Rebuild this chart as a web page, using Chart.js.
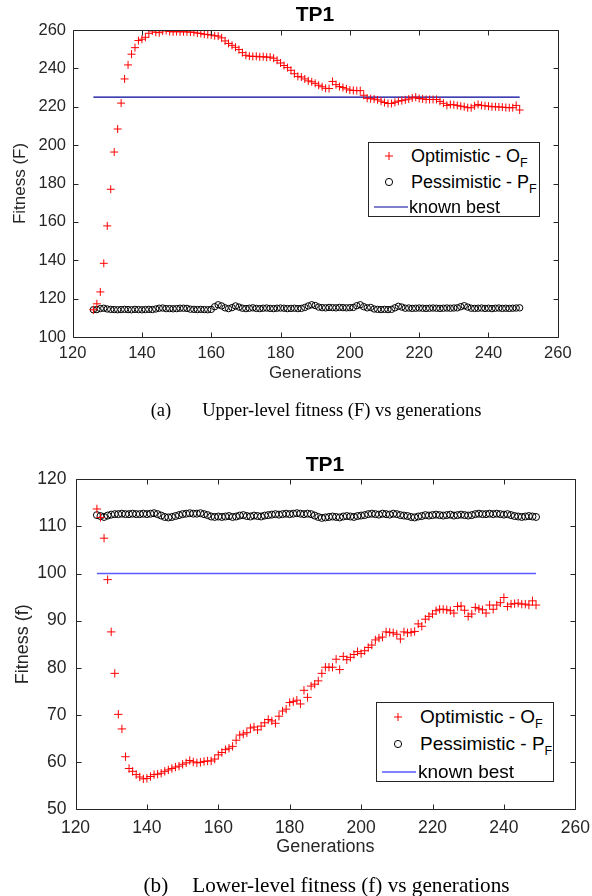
<!DOCTYPE html>
<html><head><meta charset="utf-8">
<script src="https://cdn.jsdelivr.net/npm/chart.js@4/dist/chart.umd.min.js"></script>
<style>
body{margin:0;width:592px;height:896px;background:#fff;position:relative;overflow:hidden;font-family:"Liberation Sans",Arial,sans-serif;color:#262626}
.cw{position:absolute;left:0;width:592px}
.title{position:absolute;font-weight:bold;color:#000;transform:translate(-50%,-50%);white-space:nowrap;font-size:21px}
.legend{position:absolute;border:1px solid #262626;background:#fff;box-sizing:border-box}
.row{position:absolute;white-space:nowrap;transform:translateY(-50%);color:#000}
.row .s{position:relative;font-size:12.5px;top:5px}
.mk{position:absolute}
.cap{position:absolute;font-family:"Liberation Serif","Times New Roman",serif;color:#000;white-space:nowrap;transform:translate(-50%,-50%)}
.gap{display:inline-block}
</style>
</head><body>

<div class="cw" style="top:0;height:400px"><canvas id="c1" width="592" height="400"></canvas></div>
<div class="cw" style="top:440px;height:456px"><canvas id="c2" width="592" height="456"></canvas></div>

<div class="title" style="left:315px;top:14px">TP1</div>
<div class="title" style="left:325px;top:464px">TP1</div>

<div class="legend" style="left:368px;top:142px;width:172px;height:75px;font-size:18px">
  <svg class="mk" style="left:15px;top:8px" width="10" height="10"><path d="M5 1V9M1 5H9" stroke="#ff0000" stroke-width="1"/></svg>
  <div class="row" style="left:42px;top:13px">Optimistic - O<span class="s">F</span></div>
  <svg class="mk" style="left:15px;top:34px" width="10" height="10"><circle cx="5" cy="5" r="3.6" stroke="#000" fill="none" stroke-width="1"/></svg>
  <div class="row" style="left:42px;top:38.7px">Pessimistic - P<span class="s">F</span></div>
  <svg class="mk" style="left:5px;top:59px" width="34" height="10"><path d="M0 5H34" stroke="#00009a" stroke-width="1.2"/></svg>
  <div class="row" style="left:40px;top:64px">known best</div>
</div>

<div class="legend" style="left:376px;top:702px;width:178px;height:80px;font-size:19px">
  <svg class="mk" style="left:16px;top:9px" width="10" height="10"><path d="M5 1V9M1 5H9" stroke="#ff0000" stroke-width="1"/></svg>
  <div class="row" style="left:43px;top:14px">Optimistic - O<span class="s">F</span></div>
  <svg class="mk" style="left:16px;top:36px" width="10" height="10"><circle cx="5" cy="5" r="3.6" stroke="#000" fill="none" stroke-width="1"/></svg>
  <div class="row" style="left:43px;top:41.3px">Pessimistic - P<span class="s">F</span></div>
  <svg class="mk" style="left:5px;top:64px" width="34" height="10"><path d="M0 5H34" stroke="#5a5aff" stroke-width="1.5"/></svg>
  <div class="row" style="left:41px;top:68.7px">known best</div>
</div>

<div class="cap" style="left:316px;top:410px;font-size:18.5px">(a)<span class="gap" style="width:31px"></span>Upper-level fitness (F) vs generations</div>
<div class="cap" style="left:326.5px;top:885px;font-size:21.2px">(b)<span class="gap" style="width:24px"></span>Lower-level fitness (f) vs generations</div>

<script>
// ---------- data ----------
const generations = [126,127,128,129,130,131,132,133,134,135,136,137,138,139,140,141,142,143,144,145,146,147,148,149,150,151,152,153,154,155,156,157,158,159,160,161,162,163,164,165,166,167,168,169,170,171,172,173,174,175,176,177,178,179,180,181,182,183,184,185,186,187,188,189,190,191,192,193,194,195,196,197,198,199,200,201,202,203,204,205,206,207,208,209,210,211,212,213,214,215,216,217,218,219,220,221,222,223,224,225,226,227,228,229,230,231,232,233,234,235,236,237,238,239,240,241,242,243,244,245,246,247,248,249];

// Upper-level fitness F
const upperOptimistic = [114.2,117.3,123.5,138.4,157.9,177,196.4,208.4,221.9,234.5,241.8,247.4,250.8,254.5,255.2,256.2,258.3,259.5,258.8,258.6,259.5,259.8,259.2,259.0,259.2,259.0,259.1,259.0,258.9,258.8,258.4,258.2,257.8,257.6,257.4,257.0,256.8,255.9,254.3,253.0,252.0,251.0,249.8,248.2,246.8,246.4,246.2,246.3,246.0,246.1,245.8,245.9,245.3,244.2,242.8,241.5,240.4,239.0,237.2,235.8,235.5,234.5,233.5,233.0,232.2,231.2,230.4,229.6,229.5,233.2,231.5,230.5,230.0,229.3,228.7,228.5,228.4,228.4,226.0,224.4,224.2,224.0,223.6,222.9,222.2,221.7,221.7,222.3,222.9,223.2,223.6,224.0,224.6,225.0,224.3,224.1,223.8,223.8,223.8,223.8,222.8,221.8,220.7,221.2,221.0,220.7,220.3,220.0,219.5,219.5,220.5,221.2,220.7,220.5,220.3,220.0,220.0,219.9,219.8,219.6,219.5,219.5,220.7,218.3];
const upperPessimistic = [114.2,114.3,114.8,115.0,114.6,114.4,114.3,114.2,114.3,114.4,114.3,114.2,114.4,114.3,114.2,114.3,114.4,114.3,114.6,115.0,115.1,114.8,114.8,114.7,114.8,115.0,115.0,114.9,114.5,114.4,114.3,114.4,114.3,114.2,114.4,115.8,116.8,116.2,115.2,114.8,115.3,116.2,115.6,115.0,114.8,115.0,115.2,114.9,114.8,115.0,115.1,114.9,114.8,115.0,115.1,115.0,114.8,114.9,115.0,114.8,114.9,115.4,116.2,116.8,116.4,115.6,115.3,115.2,115.4,115.3,115.2,115.4,115.3,115.2,115.3,115.4,116.3,116.8,115.8,115.2,115.4,114.6,114.4,114.3,114.4,114.3,114.4,115.2,116.0,115.6,115.0,115.1,114.9,115.0,115.1,115.0,114.9,115.0,115.1,115.0,114.9,115.0,115.1,115.0,115.1,115.2,115.8,116.3,115.6,115.0,114.9,115.0,115.1,114.9,115.0,114.8,115.0,115.1,114.9,115.0,114.9,115.0,115.1,115.2];
const upperKnownBestX = [126,249];
const upperKnownBestY = [225,225];

// Lower-level fitness f
const lowerOptimistic = [113.7,111.9,107.5,98.7,87.6,78.8,70.1,67.0,61.1,58.6,58.0,57.3,56.8,56.4,56.5,56.9,57.3,57.4,57.6,58.0,58.3,58.6,58.9,59.1,59.5,59.8,60.3,60.0,59.8,59.9,60.1,60.2,60.2,60.6,61.5,62.0,62.6,62.9,63.3,64.6,65.7,65.9,66.2,67.2,67.4,66.8,67.6,68.3,69.0,68.7,68.2,69.7,70.8,71.2,72.6,72.8,73.1,72.3,75.2,73.7,76.1,76.5,77.2,78.8,80.1,80.1,80.1,81.8,79.6,82.4,81.7,82.2,82.8,83.4,83.0,83.6,84.3,84.8,85.9,86.3,86.5,87.6,87.5,87.4,87.1,86.1,87.6,87.4,87.5,87.7,89.3,88.8,90.3,90.9,91.4,92.1,92.4,92.4,92.3,92.1,91.6,93.0,93.1,92.2,90.9,91.4,92.8,92.5,92.3,91.6,93.3,92.4,93.3,93.8,94.9,93.0,93.5,93.6,93.7,93.5,93.5,93.3,94.2,93.3];
const lowerPessimistic = [112.4,112.2,112.0,112.3,112.5,112.6,112.6,112.7,112.6,112.6,112.7,112.6,112.6,112.7,112.6,112.7,112.8,112.6,112.3,112.0,111.9,112.0,112.2,112.4,112.6,112.7,112.8,112.7,112.7,112.8,112.6,112.4,112.1,112.0,112.1,112.0,112.1,112.2,112.0,112.1,112.3,112.4,112.2,112.1,112.3,112.2,112.1,112.3,112.4,112.5,112.6,112.5,112.6,112.7,112.6,112.7,112.8,112.7,112.6,112.7,112.6,112.3,112.0,111.8,111.9,112.0,112.1,112.0,111.9,112.1,112.2,112.1,112.0,112.2,112.3,112.4,112.6,112.7,112.6,112.5,112.7,112.6,112.5,112.7,112.6,112.4,112.3,112.2,112.0,111.9,112.1,112.2,112.4,112.3,112.4,112.5,112.4,112.3,112.4,112.5,112.3,112.4,112.5,112.4,112.3,112.4,112.6,112.7,112.6,112.6,112.7,112.6,112.7,112.6,112.5,112.6,112.4,112.2,112.1,112.0,112.1,112.2,112.1,112.0];
const lowerKnownBestX = [126,249];
const lowerKnownBestY = [100,100];

const xTicks = [120,140,160,180,200,220,240,260];
const upperYTicks = [100,120,140,160,180,200,220,240,260];
const lowerYTicks = [50,60,70,80,90,100,110,120];

// ---------- drawing ----------
const AX = '#262626';
const boxTicks = {
  id: 'boxTicks',
  afterDraw(chart) {
    const {ctx, chartArea: a, scales: {x, y}} = chart;
    ctx.save();
    ctx.strokeStyle = AX;
    ctx.lineWidth = 1;
    ctx.beginPath();
    const L = Math.round(a.left) + 0.5, R = Math.round(a.right) + 0.5;
    const T = Math.round(a.top) + 0.5, B = Math.round(a.bottom) + 0.5;
    ctx.rect(L, T, R - L, B - T);
    const tl = 5;
    x.ticks.forEach(t => {
      const px = Math.round(x.getPixelForValue(t.value)) + 0.5;
      ctx.moveTo(px, B); ctx.lineTo(px, B - tl);
      ctx.moveTo(px, T); ctx.lineTo(px, T + tl);
    });
    y.ticks.forEach(t => {
      const py = Math.round(y.getPixelForValue(t.value)) + 0.5;
      ctx.moveTo(L, py); ctx.lineTo(L + tl, py);
      ctx.moveTo(R, py); ctx.lineTo(R - tl, py);
    });
    ctx.stroke();
    ctx.restore();
  }
};

function pts(xs, ys) { return xs.map((g, i) => ({x: g, y: ys[i]})); }

function makeChart(id, o) {
  return new Chart(document.getElementById(id), {
    type: 'scatter',
    data: {datasets: [
      {data: pts(generations, o.opt), pointStyle: 'cross', pointRadius: o.plusR, borderColor: '#ff0000', backgroundColor: '#ff0000', borderWidth: 1, showLine: false},
      {data: pts(generations, o.pess), pointStyle: 'circle', pointRadius: o.circR, borderColor: '#000000', backgroundColor: 'rgba(0,0,0,0)', borderWidth: 1, showLine: false},
      {data: pts(o.bestX, o.bestY), showLine: true, pointRadius: 0, borderColor: o.bestColor, borderWidth: o.bestW, fill: false}
    ]},
    options: {
      responsive: false, animation: false, devicePixelRatio: 1,
      layout: {padding: {left: 0, top: o.top, right: o.right, bottom: o.bottom}},
      plugins: {legend: {display: false}, tooltip: {enabled: false}},
      scales: {
        x: {
          type: 'linear', min: 120, max: 260,
          afterBuildTicks: s => { s.ticks = xTicks.map(v => ({value: v})); },
          ticks: {padding: o.xPad, font: {size: o.tickSize}, color: AX, maxRotation: 0},
          grid: {display: false, drawTicks: false}, border: {display: false},
          title: {display: true, text: 'Generations', font: {size: o.labSize}, color: AX, padding: {top: 0, bottom: 4}},
          afterFit: s => { s.height = o.xH; s.paddingLeft = 0; s.paddingRight = 0; }
        },
        y: {
          type: 'linear', min: o.yMin, max: o.yMax,
          afterBuildTicks: s => { s.ticks = o.yTicks.map(v => ({value: v})); },
          ticks: {padding: o.yPad, font: {size: o.tickSize}, color: AX},
          grid: {display: false, drawTicks: false}, border: {display: false},
          title: {display: true, text: o.yTitle, font: {size: o.labSize}, color: AX, padding: {top: o.yTitlePad, bottom: 0}},
          afterFit: s => { s.width = o.yW; s.paddingTop = 0; s.paddingBottom = 0; }
        }
      }
    },
    plugins: [boxTicks]
  });
}

Chart.defaults.font.family = '"Liberation Sans", Arial, sans-serif';

makeChart('c1', {
  opt: upperOptimistic, pess: upperPessimistic, bestX: upperKnownBestX, bestY: upperKnownBestY,
  bestColor: '#00009a', bestW: 1.2, plusR: 4, circR: 3.2,
  top: 30, right: 34.2, bottom: 400 - 337 - 51, xH: 51, yW: 72.6,
  xPad: 7, yPad: 6.6, tickSize: 16.5, labSize: 17, yTitlePad: 10,
  yMin: 100, yMax: 260, yTicks: upperYTicks, yTitle: 'Fitness (F)'
});

makeChart('c2', {
  opt: lowerOptimistic, pess: lowerPessimistic, bestX: lowerKnownBestX, bestY: lowerKnownBestY,
  bestColor: '#5a5aff', bestW: 1.5, plusR: 4.2, circR: 3.5,
  top: 39.3, right: 592 - 575.3, bottom: 456 - 369 - 53, xH: 53, yW: 75.5,
  xPad: 8.5, yPad: 9, tickSize: 17.5, labSize: 18, yTitlePad: 12,
  yMin: 50, yMax: 120, yTicks: lowerYTicks, yTitle: 'Fitness (f)'
});
</script>
</body></html>
